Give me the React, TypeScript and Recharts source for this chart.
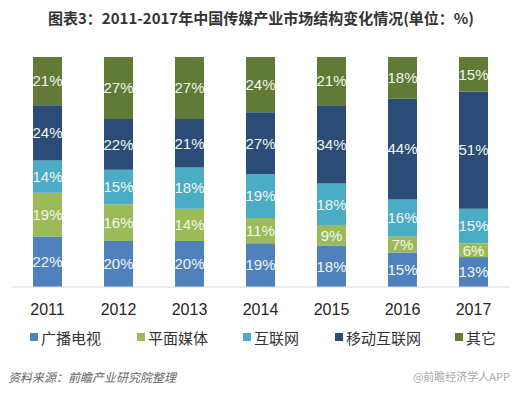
import { BarChart, Bar, XAxis, YAxis, LabelList } from 'recharts';

const years = ['2011', '2012', '2013', '2014', '2015', '2016', '2017'];
const broadcastTv = [22, 20, 20, 19, 18, 15, 13];
const printMedia = [19, 16, 14, 11, 9, 7, 6];
const internet = [14, 15, 18, 19, 18, 16, 15];
const mobileInternet = [24, 22, 21, 27, 34, 44, 51];
const others = [21, 27, 27, 24, 21, 18, 15];

const seriesNames = ['广播电视', '平面媒体', '互联网', '移动互联网', '其它'];
const seriesKeys = ['tv', 'print', 'web', 'mobile', 'other'];
const seriesColors = ['#4f81bd', '#9bbb59', '#4bacc6', '#2a4c77', '#617a35'];

const chartData = years.map((y, i) => ({
    year: y,
    tv: broadcastTv[i],
    print: printMedia[i],
    web: internet[i],
    mobile: mobileInternet[i],
    other: others[i]
}));

const font = '"Liberation Sans", Arial, "Noto Sans CJK SC", sans-serif';
const cjkFont = '"Noto Sans CJK SC", "Liberation Sans", sans-serif';

const YearTick = (props: any) => {
    const { x, y, payload } = props;
    return (
        <text x={x} y={y + 20} textAnchor="middle" fill="#262626" fontSize={16} fontFamily={font}>
            {payload.value}
        </text>
    );
};

const legendPos = [30, 137, 243, 335, 455];

export default function App() {
    return (
        <div style={{ position: 'fixed', left: 0, top: 0, width: 522, height: 394, background: '#fff', fontFamily: cjkFont }}>
            <div style={{ position: 'absolute', left: 0, top: 8, width: 522, textAlign: 'center', fontSize: 15, fontWeight: 'bold', color: '#333', lineHeight: '20px' }}>
                图表3：2011-2017年中国传媒产业市场结构变化情况(单位：%)
            </div>
            <div style={{ position: 'absolute', left: 0, top: 0 }}>
                <BarChart width={522} height={330} data={chartData} margin={{ top: 57, right: 13, left: 12, bottom: 0 }} stackOffset="expand">
                    <XAxis
                        dataKey="year"
                        height={43}
                        tickLine={false}
                        axisLine={{ stroke: '#d9d9d9' }}
                        tick={<YearTick />}
                        interval={0}
                    />
                    <YAxis hide domain={[0, 1]} />
                    {seriesKeys.map((k, i) => (
                        <Bar key={k} dataKey={k} stackId="a" fill={seriesColors[i]} barSize={29} isAnimationActive={false}>
                            <LabelList
                                dataKey={k}
                                position="center"
                                fill="#f4f6ee"
                                fontSize={15}
                                fontFamily={font}
                                formatter={(v: any) => `${v}%`}
                            />
                        </Bar>
                    ))}
                </BarChart>
            </div>
            {seriesNames.map((n, i) => (
                <div key={n} style={{ position: 'absolute', left: legendPos[i], top: 327, height: 20, display: 'flex', alignItems: 'center', fontSize: 15, color: '#333' }}>
                    <span style={{ display: 'inline-block', width: 8, height: 8, background: seriesColors[i], marginRight: 3 }} />
                    {n}
                </div>
            ))}
            <div style={{ position: 'absolute', left: 8, top: 368, fontSize: 12, fontStyle: 'italic', color: '#666' }}>
                资料来源：前瞻产业研究院整理
            </div>
            <div style={{ position: 'absolute', right: 12, top: 368, fontSize: 11, color: '#aaa' }}>
                @前瞻经济学人APP
            </div>
        </div>
    );
}
